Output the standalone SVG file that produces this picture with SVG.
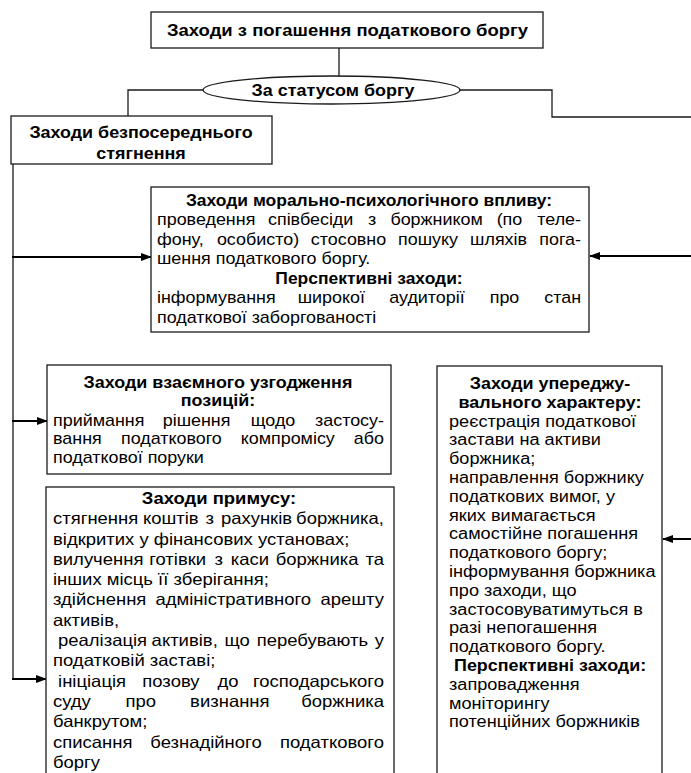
<svg xmlns="http://www.w3.org/2000/svg" width="691" height="773" viewBox="0 0 691 773">
<style>
text{font-family:"Liberation Sans",Arial,sans-serif;fill:#000}
.t{font-size:16px}
.tr{font-size:16.5px}
.tp{font-size:16.2px}
.b{font-size:16px;font-weight:bold}
.bm{font-size:15.6px;font-weight:bold}
.h{font-size:16.5px;font-weight:bold}
.box{fill:#fff;stroke:#1a1a1a;stroke-width:1.3}
.ln{fill:none;stroke:#1a1a1a;stroke-width:1.3}
.ar{fill:none;stroke:#000;stroke-width:2}
.e{text-anchor:end}
.m{text-anchor:middle}
</style>
<defs>
<marker id="ah" markerUnits="userSpaceOnUse" markerWidth="11" markerHeight="8" refX="10" refY="4" orient="auto"><path d="M0,0 L11,4 L0,8 z" fill="#000"/></marker>
</defs>
<rect width="691" height="773" fill="#fff"/>

<g id="connectors">
<line class="ln" x1="339" y1="48" x2="339" y2="76"/>
<polyline class="ln" points="203,90 128,90 128,116"/>
<polyline class="ln" points="460,90 552,90 552,117 691,117"/>
<line class="ln" x1="13" y1="164" x2="13" y2="680"/>
<line class="ar" x1="12" y1="257" x2="151" y2="257" marker-end="url(#ah)"/>
<line class="ar" x1="12" y1="421" x2="47" y2="421" marker-end="url(#ah)"/>
<line class="ar" x1="12" y1="679" x2="46" y2="679" marker-end="url(#ah)"/>
<line class="ar" x1="691" y1="256" x2="590" y2="256" marker-end="url(#ah)"/>
<line class="ar" x1="691" y1="539" x2="663" y2="539" marker-end="url(#ah)"/>
</g>

<g id="root">
<rect class="box" x="151" y="12" width="392" height="36"/>
<text class="h m" x="347.5" y="36" transform="matrix(1.12 0 0 1 -41.7 0)">Заходи з погашення податкового боргу</text>
</g>

<g id="status">
<ellipse class="box" cx="331.5" cy="90" rx="128.5" ry="14"/>
<text class="b m" x="333" y="96" transform="matrix(1.12 0 0 1 -39.96 0)">За статусом боргу</text>
</g>

<g id="direct">
<rect class="box" x="11" y="116" width="261" height="48"/>
<g transform="matrix(1.12 0 0 1 -16.92 0)">
<text class="b m" x="141" y="138">Заходи безпосереднього</text>
<text class="b m" x="141" y="159">стягнення</text>
</g>
</g>

<g id="moral">
<rect class="box" x="151" y="187" width="438" height="145"/>
<g transform="matrix(1.12 0 0 1 -18.84 0)">
<text class="bm m" x="346.3" y="206">Заходи морально-психологічного впливу:</text>
<text class="t" y="225.5"><tspan x="157">проведення</tspan><tspan x="294.2" class="m">співбесіди</tspan><tspan x="349.1" class="m">з</tspan><tspan x="406.6" class="m">боржником</tspan><tspan x="471.7" class="m">(по</tspan><tspan x="535.6" class="e">теле-</tspan></text>
<text class="t" y="245"><tspan x="157">фону,</tspan><tspan x="247.2" class="m">особисто)</tspan><tspan x="328" class="m">стосовно</tspan><tspan x="399" class="m">пошуку</tspan><tspan x="462" class="m">шляхів</tspan><tspan x="535.6" class="e">пога-</tspan></text>
<text class="t" x="157" y="264.5">шення податкового боргу.</text>
<text class="bm m" x="346.3" y="284">Перспективні заходи:</text>
<text class="t" y="303.5"><tspan x="157">інформування</tspan><tspan x="312.6" class="m">широкої</tspan><tspan x="398.1" class="m">аудиторії</tspan><tspan x="467.3" class="m">про</tspan><tspan x="535.6" class="e">стан</tspan></text>
<text class="t" x="157" y="323">податкової заборгованості</text>
</g>
</g>

<g id="agree">
<rect class="box" x="47" y="365" width="344" height="109"/>
<g transform="matrix(1.12 0 0 1 -6.36 0)">
<text class="b m" x="200.3" y="388">Заходи взаємного узгодження</text>
<text class="b m" x="200.3" y="406.5">позицій:</text>
<text class="t" y="426"><tspan x="53">приймання</tspan><tspan x="181.2" class="m">рішення</tspan><tspan x="249.5" class="m">щодо</tspan><tspan x="348.5" class="e">застосу-</tspan></text>
<text class="t" y="444.5"><tspan x="53">вання</tspan><tspan x="158.7" class="m">податкового</tspan><tspan x="262.6" class="m">компромісу</tspan><tspan x="348.5" class="e">або</tspan></text>
<text class="t" x="53" y="463">податкової поруки</text>
</g>
</g>

<g id="force">
<rect class="box" x="46" y="487" width="348" height="300"/>
<g transform="matrix(1.12 0 0 1 -6.36 0)">
<text class="h m" x="201.2" y="504">Заходи примусу:</text>
<text class="tr" y="524.3"><tspan x="53">стягнення</tspan><tspan x="158.2" class="m">коштів</tspan><tspan x="193" class="m">з</tspan><tspan x="234.7" class="m">рахунків</tspan><tspan x="348.5" class="e">боржника,</tspan></text>
<text class="tr" x="53" y="544.6">відкритих у фінансових установах;</text>
<text class="tr" y="564.9"><tspan x="53">вилучення</tspan><tspan x="164.3" class="m">готівки</tspan><tspan x="200.9" class="m">з</tspan><tspan x="228.8" class="m">каси</tspan><tspan x="288.8" class="m">боржника</tspan><tspan x="348.5" class="e">та</tspan></text>
<text class="tr" x="53" y="585.2">інших місць її зберігання;</text>
<text class="tr" y="605.5"><tspan x="53">здійснення</tspan><tspan x="214" class="m">адміністративного</tspan><tspan x="348.5" class="e">арешту</tspan></text>
<text class="tr" x="53" y="625.8">активів,</text>
<text class="tr" y="646.1"><tspan x="57.5">реалізація</tspan><tspan x="170.6" class="m">активів,</tspan><tspan x="217.5" class="m">що</tspan><tspan x="284.6" class="m">перебувають</tspan><tspan x="348.5" class="e">у</tspan></text>
<text class="tr" x="53" y="666.4">податковій заставі;</text>
<text class="tr" y="686.7"><tspan x="57.5">ініціація</tspan><tspan x="158.3" class="m">позову</tspan><tspan x="209.2" class="m">до</tspan><tspan x="348.5" class="e">господарського</tspan></text>
<text class="tr" y="707"><tspan x="53">суду</tspan><tspan x="131.4" class="m">про</tspan><tspan x="210.9" class="m">визнання</tspan><tspan x="348.5" class="e">боржника</tspan></text>
<text class="tr" x="53" y="727.3">банкрутом;</text>
<text class="tr" y="747.6"><tspan x="53">списання</tspan><tspan x="189.6" class="m">безнадійного</tspan><tspan x="348.5" class="e">податкового</tspan></text>
<text class="tr" x="53" y="767.9">боргу</text>
</g>
</g>

<g id="preventive">
<rect class="box" x="437" y="366" width="225" height="420"/>
<g transform="matrix(1.12 0 0 1 -53.88 0)">
<text class="b m" x="539.2" y="389">Заходи упереджу-</text>
<text class="b m" x="539.2" y="407.8">вального характеру:</text>
<text class="tp" x="449" y="426.6">реєстрація податкової</text>
<text class="tp" x="449" y="445.4">застави на активи</text>
<text class="tp" x="449" y="464.2">боржника;</text>
<text class="tp" x="449" y="483">направлення боржнику</text>
<text class="tp" x="449" y="501.8">податкових вимог, у</text>
<text class="tp" x="449" y="520.6">яких вимагається</text>
<text class="tp" x="449" y="539.4">самостійне погашення</text>
<text class="tp" x="449" y="558.2">податкового боргу;</text>
<text class="tp" x="449" y="577">інформування боржника</text>
<text class="tp" x="449" y="595.8">про заходи, що</text>
<text class="tp" x="449" y="614.6">застосовуватимуться в</text>
<text class="tp" x="449" y="633.4">разі непогашення</text>
<text class="tp" x="449" y="652.2">податкового боргу.</text>
<text class="b" x="453.5" y="671">Перспективні заходи:</text>
<text class="tp" x="449" y="689.8">запровадження</text>
<text class="tp" x="449" y="708.6">моніторингу</text>
<text class="tp" x="449" y="727.4">потенційних боржників</text>
</g>
</g>
</svg>
